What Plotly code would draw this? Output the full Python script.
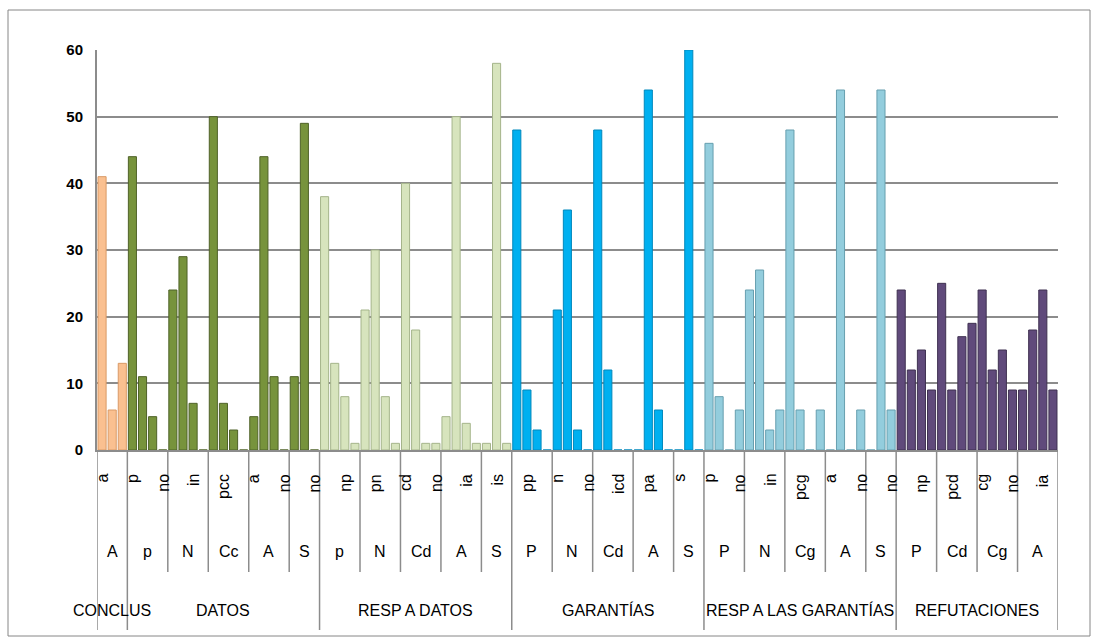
import plotly.graph_objects as go

# ---------------- data ----------------
groups = ["CONCLUS", "DATOS", "RESP A DATOS", "GARANTÍAS", "RESP A LAS GARANTÍAS", "REFUTACIONES"]

subgroups = [
    ["A"],
    ["p", "N", "Cc", "A", "S"],
    ["p", "N", "Cd", "A", "S"],
    ["P", "N", "Cd", "A", "S"],
    ["P", "N", "Cg", "A", "S"],
    ["P", "Cd", "Cg", "A"],
]

conclus_vals = [41, 6, 13]
datos_vals = [44, 11, 5, 0, 24, 29, 7, 0, 50, 7, 3, 0, 5, 44, 11, 0, 11, 49, 0]
resp_datos_vals = [38, 13, 8, 1, 21, 30, 8, 1, 40, 18, 1, 1, 5, 50, 4, 1, 1, 58, 1]
garantias_vals = [48, 9, 3, 0, 21, 36, 3, 0, 48, 12, 0, 0, 0, 54, 6, 0, 0, 60, 0]
resp_garantias_vals = [46, 8, 0, 6, 24, 27, 3, 6, 48, 6, 0, 6, 0, 54, 0, 6, 0, 54, 6]
refutaciones_vals = [24, 12, 15, 9, 25, 9, 17, 19, 24, 12, 15, 9, 9, 18, 24, 9]

group_values = [conclus_vals, datos_vals, resp_datos_vals, garantias_vals,
                resp_garantias_vals, refutaciones_vals]

# shown item labels (every third category)
item_labels = ["a", "p", "no", "in", "pcc", "a", "no", "no", "np", "pn", "cd", "no",
               "ia", "is", "pp", "n", "no", "icd", "pa", "s", "p", "no", "in", "pcg",
               "a", "no", "no", "np", "pcd", "cg", "no", "ia"]
label_step = 3

group_colors = ["#FAC090", "#77933C", "#D7E4BD", "#00B0F0", "#93CDDD", "#604A7B"]
group_edges = ["#D99A66", "#4F6228", "#A4B48A", "#0088BC", "#679FAF", "#3F3151"]

y_ticks = [0, 10, 20, 30, 40, 50, 60]

# ---------------- layout geometry ----------------
W, H = 1097, 641
L, R, T, B = 97, 39, 50, 191
plot_h = H - T - B


def ypx(py):
    return (H - B - py) / plot_h


def subgroup_sizes(gi):
    n = len(group_values[gi])
    k = len(subgroups[gi])
    sizes = [4] * k
    sizes[-1] = n - 4 * (k - 1)
    return sizes


fig = go.Figure()
shapes = []
annotations = []
grid = "#8C8C8C"
font_family = "Liberation Sans, Arial, sans-serif"

start = 0
total = sum(len(v) for v in group_values)
for gi, vals in enumerate(group_values):
    xs = list(range(start, start + len(vals)))
    fig.add_trace(go.Bar(
        x=xs, y=vals, width=0.8,
        marker=dict(color=group_colors[gi], line=dict(color=group_edges[gi], width=1)),
        name=groups[gi], showlegend=False,
    ))
    # top-level separator + label
    shapes.append(dict(type="line", xref="x", yref="paper", x0=start - 0.5, x1=start - 0.5,
                       y0=ypx(450), y1=ypx(630), line=dict(color=grid, width=1.5)))
    annotations.append(dict(x=start + (len(vals) - 1) / 2, y=ypx(610), xref="x", yref="paper",
                            text=groups[gi], showarrow=False, yanchor="middle",
                            font=dict(size=16, color="black", family=font_family)))
    s = start
    for si, sz in enumerate(subgroup_sizes(gi)):
        if si > 0:
            shapes.append(dict(type="line", xref="x", yref="paper", x0=s - 0.5, x1=s - 0.5,
                               y0=ypx(450), y1=ypx(572), line=dict(color=grid, width=1.5)))
        annotations.append(dict(x=s + (sz - 1) / 2, y=ypx(551), xref="x", yref="paper",
                                text=subgroups[gi][si], showarrow=False, yanchor="middle",
                                font=dict(size=16, color="black", family=font_family)))
        s += sz
    start += len(vals)

shapes.append(dict(type="line", xref="x", yref="paper", x0=total - 0.5, x1=total - 0.5,
                   y0=ypx(450), y1=ypx(630), line=dict(color=grid, width=1.5)))

for k, lab in enumerate(item_labels):
    annotations.append(dict(x=k * label_step, y=ypx(472), xref="x", yref="paper",
                            text=lab, textangle=-90, showarrow=False,
                            xanchor="center", yanchor="top",
                            font=dict(size=16, color="black", family=font_family)))

# outer chart border
shapes.append(dict(type="rect", xref="paper", yref="paper",
                   x0=(8 - L) / (W - L - R), x1=(1090 - L) / (W - L - R),
                   y0=ypx(636), y1=ypx(10), line=dict(color="#868686", width=1)))

fig.update_layout(
    width=W, height=H,
    margin=dict(l=L, r=R, t=T, b=B),
    paper_bgcolor="white", plot_bgcolor="white",
    bargap=0.2,
    shapes=shapes, annotations=annotations,
    xaxis=dict(range=[-0.5, total - 0.5], showticklabels=False, showgrid=False,
               zeroline=False, showline=True, linecolor=grid, linewidth=2, ticks=""),
    yaxis=dict(range=[0, 60], tickvals=y_ticks, showgrid=True, gridcolor=grid, gridwidth=2,
               zeroline=False, showline=True, linecolor=grid, linewidth=2, ticks="",
               ticklabelstandoff=9,
               tickfont=dict(size=15, color="black", family=font_family, weight="bold")),
)

fig.write_html("out.html", config={"displayModeBar": False},
               post_script="document.body.style.margin='0';")
